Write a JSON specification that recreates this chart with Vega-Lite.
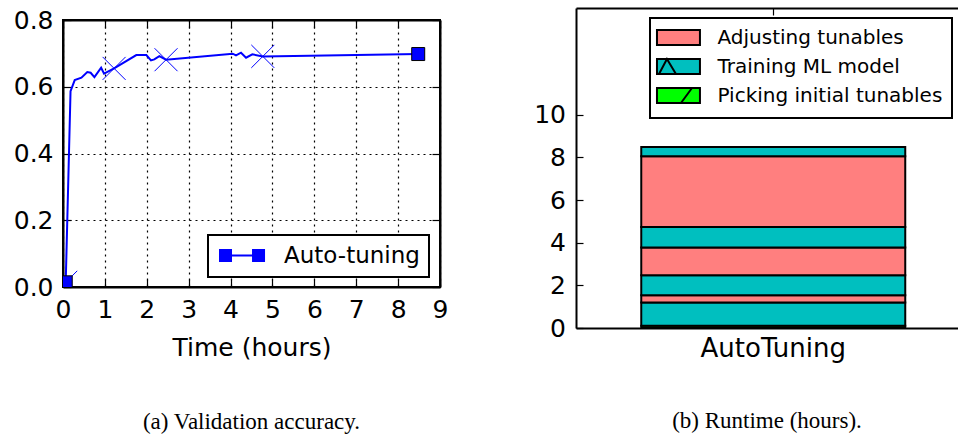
{
  "$schema": "https://vega.github.io/schema/vega-lite/v6.json",
  "background": "white",
  "padding": {"left": 12, "top": 7, "right": 0, "bottom": 0},
  "autosize": {"type": "pad"},
  "datasets": {
    "acc": [
      {"hours": 0.065, "accuracy": 0.014},
      {"hours": 0.18, "accuracy": 0.587},
      {"hours": 0.28, "accuracy": 0.62},
      {"hours": 0.44, "accuracy": 0.627},
      {"hours": 0.58, "accuracy": 0.644},
      {"hours": 0.66, "accuracy": 0.642},
      {"hours": 0.75, "accuracy": 0.629},
      {"hours": 0.91, "accuracy": 0.657},
      {"hours": 0.98, "accuracy": 0.639},
      {"hours": 1.22, "accuracy": 0.655},
      {"hours": 1.75, "accuracy": 0.695},
      {"hours": 1.99, "accuracy": 0.695},
      {"hours": 2.1, "accuracy": 0.679},
      {"hours": 2.18, "accuracy": 0.682},
      {"hours": 2.3, "accuracy": 0.692},
      {"hours": 2.46, "accuracy": 0.681},
      {"hours": 4.05, "accuracy": 0.699},
      {"hours": 4.13, "accuracy": 0.694},
      {"hours": 4.25, "accuracy": 0.702},
      {"hours": 4.37, "accuracy": 0.687},
      {"hours": 4.52, "accuracy": 0.697},
      {"hours": 4.77, "accuracy": 0.691},
      {"hours": 8.48, "accuracy": 0.698}
    ],
    "xmarks": [
      {"hours": 0.065, "accuracy": 0.014},
      {"hours": 1.22, "accuracy": 0.655},
      {"hours": 2.46, "accuracy": 0.681},
      {"hours": 4.77, "accuracy": 0.691}
    ],
    "ends": [
      {"hours": 0.065, "accuracy": 0.014},
      {"hours": 8.48, "accuracy": 0.698}
    ],
    "runtime": [
      {"run": "AutoTuning", "phase": "Picking initial tunables", "start": 0, "end": 0.1},
      {"run": "AutoTuning", "phase": "Training ML model", "start": 0.1, "end": 1.2},
      {"run": "AutoTuning", "phase": "Adjusting tunables", "start": 1.2, "end": 1.53},
      {"run": "AutoTuning", "phase": "Training ML model", "start": 1.53, "end": 2.47},
      {"run": "AutoTuning", "phase": "Adjusting tunables", "start": 2.47, "end": 3.77},
      {"run": "AutoTuning", "phase": "Training ML model", "start": 3.77, "end": 4.74},
      {"run": "AutoTuning", "phase": "Adjusting tunables", "start": 4.74, "end": 8.05},
      {"run": "AutoTuning", "phase": "Training ML model", "start": 8.05, "end": 8.49}
    ]
  },
  "spacing": 84,
  "resolve": {"scale": {"color": "independent"}, "legend": {"color": "independent"}},
  "hconcat": [
    {
      "spacing": -2,
      "vconcat": [
        {
          "width": 377,
          "height": 1,
          "data": {"values": []},
          "mark": {"type": "point", "opacity": 0},
          "view": {"stroke": null}
        },
        {
          "width": 377,
          "height": 267,
          "view": {"stroke": "black", "strokeWidth": 2},
          "title": {"text": "(a) Validation accuracy.", "orient": "bottom", "font": "Liberation Serif", "fontSize": 23, "fontWeight": "normal", "color": "black", "offset": 51, "baseline": "top", "anchor": "middle"},
          "layer": [
            {
              "data": {"name": "acc"},
              "mark": {"type": "line", "strokeWidth": 2, "clip": true},
              "encoding": {
                "x": {"field": "hours", "type": "quantitative", "scale": {"domain": [0, 9], "nice": false},
                  "axis": {"values": [0, 1, 2, 3, 4, 5, 6, 7, 8, 9], "title": "Time (hours)", "titleFontSize": 25, "titlePadding": 13, "tickSize": -8, "labelPadding": 18, "grid": true, "gridDash": [2, 4], "gridColor": "black", "gridWidth": 1.2, "gridOpacity": 1, "labelFlush": false}},
                "y": {"field": "accuracy", "type": "quantitative", "scale": {"domain": [0, 0.8], "nice": false},
                  "axis": {"values": [0, 0.2, 0.4, 0.6, 0.8], "format": ".1f", "title": null, "tickSize": -8, "labelPadding": 18, "grid": true, "gridDash": [2, 4], "gridColor": "black", "gridWidth": 1.2, "gridOpacity": 1, "labelFlush": false}},
                "color": {"datum": "Auto-tuning", "type": "nominal", "scale": {"range": ["#0000ff"]},
                  "legend": {"title": null, "orient": "none", "legendX": 145, "legendY": 227, "padding": 9, "strokeColor": "black", "fillColor": "white", "labelFontSize": 23, "labelLimit": 400, "labelColor": "black", "labelOffset": 44, "symbolType": "M-1.46,-1H0.54V-0.17H3.62V-1H5.62V1H3.62V0.17H0.54V1H-1.46Z", "symbolSize": 169,
                    "encode": {"legend": {"update": {"strokeWidth": {"value": 2}}}, "symbols": {"update": {"fill": {"value": "#0000ff"}, "stroke": {"value": "#0000ff"}, "strokeWidth": {"value": 0}, "opacity": {"value": 1}}}}}}
              }
            },
            {
              "data": {"name": "xmarks"},
              "mark": {"type": "point", "shape": "M-1,-1L1,1M-1,1L1,-1", "size": 529, "filled": false, "stroke": "#0000ff", "strokeWidth": 1, "opacity": 1, "clip": true},
              "encoding": {
                "x": {"field": "hours", "type": "quantitative", "axis": {"orient": "top", "values": [0, 1, 2, 3, 4, 5, 6, 7, 8, 9], "labels": false, "title": null, "tickSize": -8, "grid": false}},
                "y": {"field": "accuracy", "type": "quantitative", "axis": {"orient": "right", "values": [0, 0.2, 0.4, 0.6, 0.8], "labels": false, "title": null, "tickSize": -8, "grid": false}}
              }
            },
            {
              "data": {"name": "ends"},
              "mark": {"type": "square", "size": 169, "fill": "#0000ff", "stroke": "black", "strokeWidth": 1, "opacity": 1, "clip": true},
              "encoding": {
                "x": {"field": "hours", "type": "quantitative", "axis": null},
                "y": {"field": "accuracy", "type": "quantitative", "axis": null}
              }
            }
          ],
          "resolve": {"axis": {"x": "independent", "y": "independent"}}
        }
      ]
    },
    {
      "width": 382,
      "height": 320,
      "view": {"stroke": null},
      "title": {"text": "(b) Runtime (hours).", "orient": "bottom", "font": "Liberation Serif", "fontSize": 23, "fontWeight": "normal", "color": "black", "offset": 49, "baseline": "top", "anchor": "middle"},
      "data": {"name": "runtime"},
      "layer": [
        {
          "mark": {"type": "bar", "stroke": "black", "strokeWidth": 2, "opacity": 1},
          "encoding": {
            "x": {"field": "run", "type": "nominal", "scale": {"paddingInner": 0, "paddingOuter": 0.2235, "align": 0.553},
              "axis": {"orient": "bottom", "title": null, "labelAngle": 0, "tickSize": -7, "labelPadding": 14, "labelFontSize": 26}},
            "y": {"field": "start", "type": "quantitative", "scale": {"domain": [0, 15], "nice": false},
              "axis": {"values": [0, 2, 4, 6, 8, 10], "title": null, "tickSize": -7, "labelPadding": 17.5, "grid": false, "labelFlush": false}},
            "y2": {"field": "end"},
            "color": {"field": "phase", "type": "nominal",
              "scale": {"domain": ["Adjusting tunables", "Training ML model", "Picking initial tunables"], "range": ["#ff7f7f", "#00bfbf", "#00ff00"]},
              "legend": {"title": " ", "titleOrient": "bottom", "titleFontSize": 1, "titlePadding": 0, "orient": "none", "legendX": 74, "legendY": 10, "padding": 9.5, "strokeColor": "black", "fillColor": "white", "labelFontSize": 20, "labelLimit": 400, "labelColor": "black", "labelOffset": 38, "rowPadding": 5, "symbolType": "M-1.67,-1H4.06V1H-1.67Z", "symbolSize": 225, "symbolStrokeColor": "black", "symbolStrokeWidth": 2, "symbolOpacity": 1,
                "encode": {
                  "legend": {"update": {"strokeWidth": {"value": 2}}},
                  "symbols": {"update": {"shape": {"signal": "datum.value === 'Training ML model' ? 'M-1.67,-1H4.06V1H-1.67Z M-1.4,1L-0.34,-1L0.86,1' : datum.value === 'Picking initial tunables' ? 'M-1.67,-1H4.06V1H-1.67Z M1.53,1L3,-1' : 'M-1.67,-1H4.06V1H-1.67Z'"}}}
                }}}
          }
        },
        {
          "mark": {"type": "point", "opacity": 0},
          "encoding": {
            "x": {"field": "run", "type": "nominal", "axis": {"orient": "top", "title": null, "labels": false, "tickSize": -7}}
          }
        }
      ],
      "resolve": {"axis": {"x": "independent"}}
    }
  ],
  "config": {
    "font": "DejaVu Sans",
    "axis": {"domainColor": "black", "domainWidth": 2, "tickColor": "black", "tickWidth": 1.2, "labelColor": "black", "labelFontSize": 25, "labelFont": "DejaVu Sans", "titleFont": "DejaVu Sans", "titleFontWeight": "normal", "titleColor": "black"},
    "legend": {"labelFont": "DejaVu Sans"}
  }
}
